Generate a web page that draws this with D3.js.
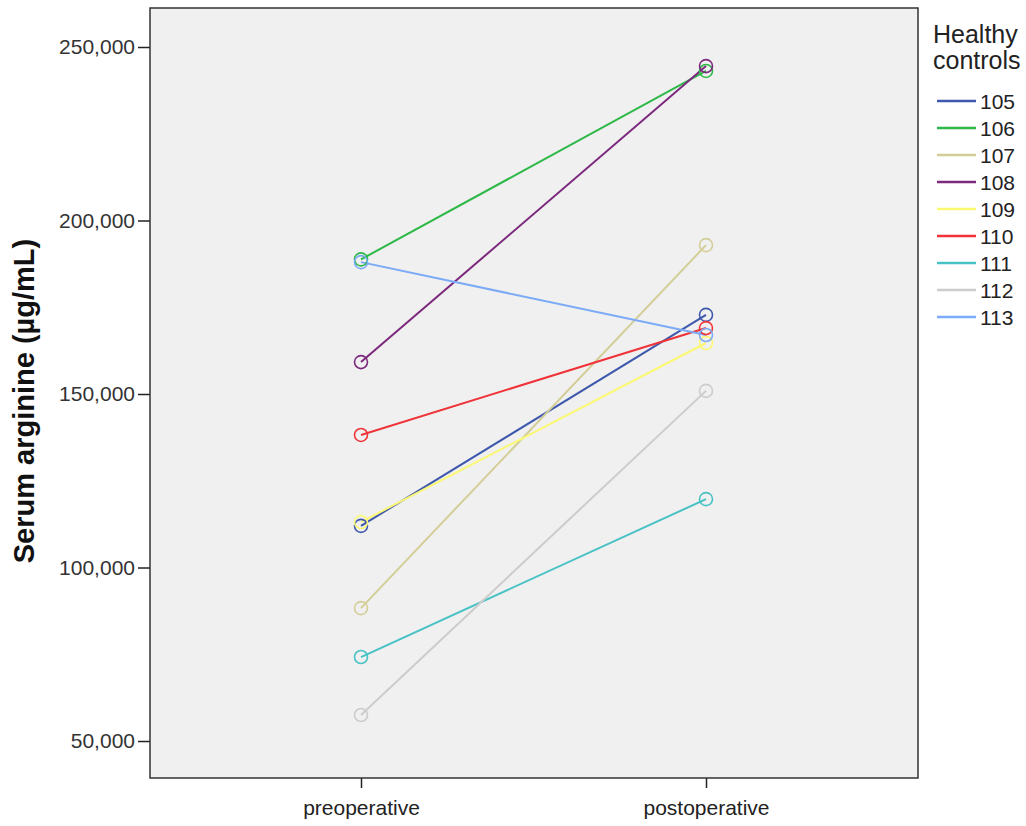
<!DOCTYPE html>
<html><head><meta charset="utf-8">
<script src="https://cdn.jsdelivr.net/npm/d3@7"></script>
<style>body{margin:0;background:#fff;} text{font-family:Arial,"Liberation Sans",sans-serif;}</style>
</head><body><svg id="c" width="1026" height="826"></svg>
<script>
const categories = ["preoperative", "postoperative"];
const subjects = ["105","106","107","108","109","110","111","112","113"];
const preValues  = [112000, 188800, 88300, 159200, 113100, 138200, 74200, 57500, 188000];
const postValues = [172800, 243100, 192900, 244500, 164700, 169000, 119700, 150900, 167000];
const colors = ["#3E58AC","#2EB848","#D3CE97","#7C287D","#FBF873","#EF3338","#48C2C5","#CCCCCC","#7BAAF7"];
const yTicks = [50000, 100000, 150000, 200000, 250000];
const legendTitle = ["Healthy", "controls"];
const yTitle = "Serum arginine (µg/mL)";

const svg = d3.select("#c");
const L = 150, R = 918, T = 8, B = 778;
const y = d3.scaleLinear().domain([39340, 261240]).range([B, T]);
const x = d3.scalePoint().domain(categories).range([361, 706]);

svg.append("rect").attr("x", L).attr("y", T).attr("width", R - L).attr("height", B - T)
  .attr("fill", "#F0F0F0");

// axes
const yAxis = svg.append("g").attr("transform", `translate(${L},0)`)
  .call(d3.axisLeft(y).tickValues(yTicks).tickFormat(d3.format(",")).tickSize(12).tickPadding(3));
yAxis.select(".domain").remove();
yAxis.selectAll("line").attr("stroke", "#222").attr("stroke-width", 1.5);
yAxis.selectAll("text").attr("font-size", 21).attr("fill", "#333");

const xAxis = svg.append("g").attr("transform", `translate(0,${B})`)
  .call(d3.axisBottom(x).tickSize(10).tickPadding(12));
xAxis.select(".domain").remove();
xAxis.selectAll("line").attr("stroke", "#222").attr("stroke-width", 1.5);
xAxis.selectAll("text").attr("font-size", 21).attr("fill", "#222");

svg.append("rect").attr("x", L).attr("y", T).attr("width", R - L).attr("height", B - T)
  .attr("fill", "none").attr("stroke", "#333").attr("stroke-width", 1.5);

svg.append("text").attr("transform", `translate(34,401) rotate(-90)`)
  .attr("text-anchor", "middle").attr("font-size", 29).attr("font-weight", "bold")
  .attr("fill", "#111").text(yTitle);

// series
const data = subjects.map((s, i) => ({ s, c: colors[i], v: [preValues[i], postValues[i]] }));
const g = svg.append("g");
data.forEach(d => {
  g.append("line")
    .attr("x1", x(categories[0])).attr("y1", y(d.v[0]))
    .attr("x2", x(categories[1])).attr("y2", y(d.v[1]))
    .attr("stroke", d.c).attr("stroke-width", 2);
});
data.forEach(d => {
  d.v.forEach((v, k) => {
    g.append("circle").attr("cx", x(categories[k])).attr("cy", y(v)).attr("r", 6.5)
      .attr("fill", "none").attr("stroke", d.c).attr("stroke-width", 1.6);
  });
});

// legend
const lg = svg.append("g");
legendTitle.forEach((t, i) => {
  lg.append("text").attr("x", 933).attr("y", 43 + i * 26).attr("font-size", 25)
    .attr("fill", "#222").text(t);
});
data.forEach((d, i) => {
  const yy = 101 + i * 27;
  lg.append("line").attr("x1", 937).attr("x2", 976).attr("y1", yy).attr("y2", yy)
    .attr("stroke", d.c).attr("stroke-width", 2.5);
  lg.append("text").attr("x", 980).attr("y", yy + 7.5).attr("font-size", 21)
    .attr("fill", "#222").text(d.s);
});
</script></body></html>
